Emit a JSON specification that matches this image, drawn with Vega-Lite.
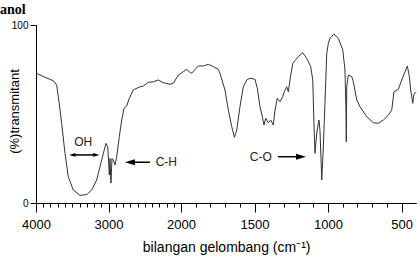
{
  "$schema": "https://vega.github.io/schema/vega-lite/v6.json",
  "autosize": {"type": "none"},
  "padding": {"left": 36, "top": 25, "right": 4, "bottom": 54},
  "width": 380,
  "height": 178,
  "background": "white",
  "title": {"text": "anol", "anchor": "start", "frame": "group", "orient": "top", "font": "Liberation Serif", "fontWeight": "bold", "fontSize": 14, "color": "#000", "baseline": "top", "offset": 0, "dx": -36, "dy": -3},
  "config": {"view": {"stroke": null}, "font": "Liberation Sans"},
  "datasets": {
    "spectrum": [
      {"wn": 4000, "t": 73.0}, {"wn": 3876, "t": 70.6}, {"wn": 3761, "t": 68.7}, {"wn": 3715, "t": 66.3},
      {"wn": 3692, "t": 59.7}, {"wn": 3646, "t": 44.8}, {"wn": 3600, "t": 27.9}, {"wn": 3555, "t": 14.8},
      {"wn": 3486, "t": 7.3}, {"wn": 3393, "t": 4.3}, {"wn": 3301, "t": 4.7}, {"wn": 3232, "t": 7.3},
      {"wn": 3163, "t": 12.9}, {"wn": 3094, "t": 24.2}, {"wn": 3035, "t": 33.5}, {"wn": 3011, "t": 31.6},
      {"wn": 3000, "t": 24.0}, {"wn": 2989, "t": 15.7}, {"wn": 2980, "t": 25.0}, {"wn": 2966, "t": 11.2},
      {"wn": 2952, "t": 25.0}, {"wn": 2934, "t": 24.2}, {"wn": 2911, "t": 21.3}, {"wn": 2887, "t": 26.0},
      {"wn": 2851, "t": 37.2}, {"wn": 2818, "t": 46.6}, {"wn": 2786, "t": 53.2}, {"wn": 2749, "t": 54.5},
      {"wn": 2713, "t": 58.8}, {"wn": 2658, "t": 63.5}, {"wn": 2566, "t": 65.3}, {"wn": 2520, "t": 65.7},
      {"wn": 2451, "t": 67.8}, {"wn": 2382, "t": 68.1}, {"wn": 2313, "t": 69.1}, {"wn": 2244, "t": 67.6},
      {"wn": 2152, "t": 66.7}, {"wn": 2106, "t": 67.2}, {"wn": 2037, "t": 71.9}, {"wn": 1984, "t": 73.8},
      {"wn": 1961, "t": 75.1}, {"wn": 1944, "t": 73.8}, {"wn": 1927, "t": 72.9}, {"wn": 1905, "t": 75.1},
      {"wn": 1882, "t": 77.0}, {"wn": 1848, "t": 77.0}, {"wn": 1814, "t": 77.9}, {"wn": 1780, "t": 76.6},
      {"wn": 1746, "t": 75.1}, {"wn": 1735, "t": 72.9}, {"wn": 1701, "t": 63.5}, {"wn": 1678, "t": 52.2},
      {"wn": 1655, "t": 42.9}, {"wn": 1637, "t": 36.9}, {"wn": 1621, "t": 41.0}, {"wn": 1599, "t": 54.1},
      {"wn": 1576, "t": 65.3}, {"wn": 1553, "t": 69.1}, {"wn": 1531, "t": 70.1}, {"wn": 1497, "t": 69.5},
      {"wn": 1481, "t": 64.4}, {"wn": 1463, "t": 54.1}, {"wn": 1447, "t": 48.5}, {"wn": 1436, "t": 43.8},
      {"wn": 1424, "t": 47.6}, {"wn": 1406, "t": 45.1}, {"wn": 1390, "t": 46.6}, {"wn": 1372, "t": 43.8},
      {"wn": 1361, "t": 52.2}, {"wn": 1345, "t": 58.8}, {"wn": 1327, "t": 56.9}, {"wn": 1308, "t": 59.7},
      {"wn": 1298, "t": 62.5}, {"wn": 1281, "t": 65.3}, {"wn": 1270, "t": 62.5}, {"wn": 1259, "t": 69.1},
      {"wn": 1240, "t": 78.5}, {"wn": 1202, "t": 82.2}, {"wn": 1172, "t": 84.4}, {"wn": 1145, "t": 81.3},
      {"wn": 1118, "t": 76.6}, {"wn": 1104, "t": 69.1}, {"wn": 1096, "t": 44.8}, {"wn": 1089, "t": 27.9},
      {"wn": 1077, "t": 39.3}, {"wn": 1062, "t": 46.6}, {"wn": 1055, "t": 41.0}, {"wn": 1043, "t": 12.9},
      {"wn": 1032, "t": 31.6}, {"wn": 1021, "t": 56.2}, {"wn": 1009, "t": 84.1}, {"wn": 998, "t": 89.7},
      {"wn": 987, "t": 92.5}, {"wn": 960, "t": 94.9}, {"wn": 930, "t": 92.5}, {"wn": 900, "t": 86.0},
      {"wn": 885, "t": 74.7}, {"wn": 878, "t": 50.6}, {"wn": 876, "t": 34.4}, {"wn": 873, "t": 65.3},
      {"wn": 862, "t": 71.9}, {"wn": 839, "t": 71.0}, {"wn": 828, "t": 68.1}, {"wn": 805, "t": 57.9},
      {"wn": 783, "t": 54.1}, {"wn": 737, "t": 48.5}, {"wn": 692, "t": 45.1}, {"wn": 658, "t": 44.8},
      {"wn": 624, "t": 46.6}, {"wn": 590, "t": 49.4}, {"wn": 567, "t": 52.2}, {"wn": 552, "t": 62.5},
      {"wn": 522, "t": 63.9}, {"wn": 499, "t": 69.1}, {"wn": 461, "t": 77.0}, {"wn": 447, "t": 71.0},
      {"wn": 438, "t": 63.5}, {"wn": 424, "t": 56.0}, {"wn": 416, "t": 61.2}, {"wn": 402, "t": 62.5}
    ],
    "labels": [
      {"label": "OH", "wn": 3348, "t": 34.0},
      {"label": "C-H", "wn": 2203, "t": 22.9},
      {"label": "C-O", "wn": 1457, "t": 25.7}
    ],
    "shafts": [
      {"label": "OH", "from": 3499, "to": 3168, "t": 27.0},
      {"label": "C-H", "from": 2704, "to": 2428, "t": 22.9},
      {"label": "C-O", "from": 1340, "to": 1184, "t": 26.0}
    ],
    "heads": [
      {"label": "OH", "wn": 3499, "t": 27.0, "dir": "left"},
      {"label": "OH", "wn": 3168, "t": 27.0, "dir": "right"},
      {"label": "C-H", "wn": 2704, "t": 22.9, "dir": "left"},
      {"label": "C-O", "wn": 1184, "t": 26.0, "dir": "right"}
    ]
  },
  "layer": [
    {
      "data": {"name": "spectrum"},
      "mark": {"type": "line", "color": "#333", "strokeWidth": 1, "interpolate": "linear"},
      "encoding": {
        "x": {
          "field": "wn", "type": "quantitative",
          "scale": {"domain": [4000, 2000, 400], "range": [0, 145, 380.3], "nice": false, "zero": false},
          "axis": {
            "title": "bilangan gelombang (cm⁻¹)",
            "values": [4000, 3900, 3800, 3700, 3600, 3500, 3400, 3300, 3200, 3100, 3000, 2900, 2800, 2700, 2600, 2500, 2400, 2300, 2200, 2100, 2000, 1900, 1800, 1700, 1600, 1500, 1400, 1300, 1200, 1100, 1000, 900, 800, 700, 600, 500],
            "tickCount": 100,
            "format": "d",
            "labelExpr": "indexof([4000,3000,2000,1500,1000,500], datum.value) >= 0 ? datum.label : ''",
            "tickSize": {"condition": {"test": "indexof([4000,3000,2000,1500,1000,500], datum.value) >= 0", "value": 9}, "value": 4},
            "tickColor": "#000", "domainColor": "#000", "grid": false,
            "labelFlush": false, "labelOverlap": false,
            "labelFontSize": 13, "labelColor": "#000", "labelPadding": 6,
            "titleFontSize": 14, "titleFontWeight": "normal", "titleColor": "#000", "titlePadding": 9
          }
        },
        "y": {
          "field": "t", "type": "quantitative",
          "scale": {"domain": [0, 100], "nice": false},
          "axis": {
            "title": "(%)transmitant",
            "values": [0, 100],
            "tickSize": 6, "tickColor": "#000", "domainColor": "#000", "grid": false,
            "labelFontSize": 10, "labelColor": "#000", "labelPadding": 2,
            "titleFontSize": 13, "titleFontWeight": "normal", "titleColor": "#000",
            "titleX": -15, "titleY": 86
          }
        }
      }
    },
    {
      "data": {"name": "shafts"},
      "mark": {"type": "rule", "color": "#000", "strokeWidth": 1.5},
      "encoding": {
        "x": {"field": "from", "type": "quantitative"},
        "x2": {"field": "to"},
        "y": {"field": "t", "type": "quantitative"}
      }
    },
    {
      "data": {"name": "heads"},
      "mark": {"type": "point", "filled": true, "color": "#000", "opacity": 1},
      "encoding": {
        "x": {"field": "wn", "type": "quantitative"},
        "y": {"field": "t", "type": "quantitative"},
        "shape": {"field": "dir", "type": "nominal", "scale": {"domain": ["left", "right"], "range": ["M1,-0.6L-1,0L1,0.6Z", "M-1,-0.6L1,0L-1,0.6Z"]}, "legend": null},
        "size": {"condition": {"test": "datum.label === 'OH'", "value": 40}, "value": 100}
      }
    },
    {
      "data": {"name": "labels"},
      "mark": {"type": "text", "fontSize": 12, "color": "#222", "align": "center", "baseline": "middle"},
      "encoding": {
        "x": {"field": "wn", "type": "quantitative"},
        "y": {"field": "t", "type": "quantitative"},
        "text": {"field": "label"}
      }
    }
  ]
}
